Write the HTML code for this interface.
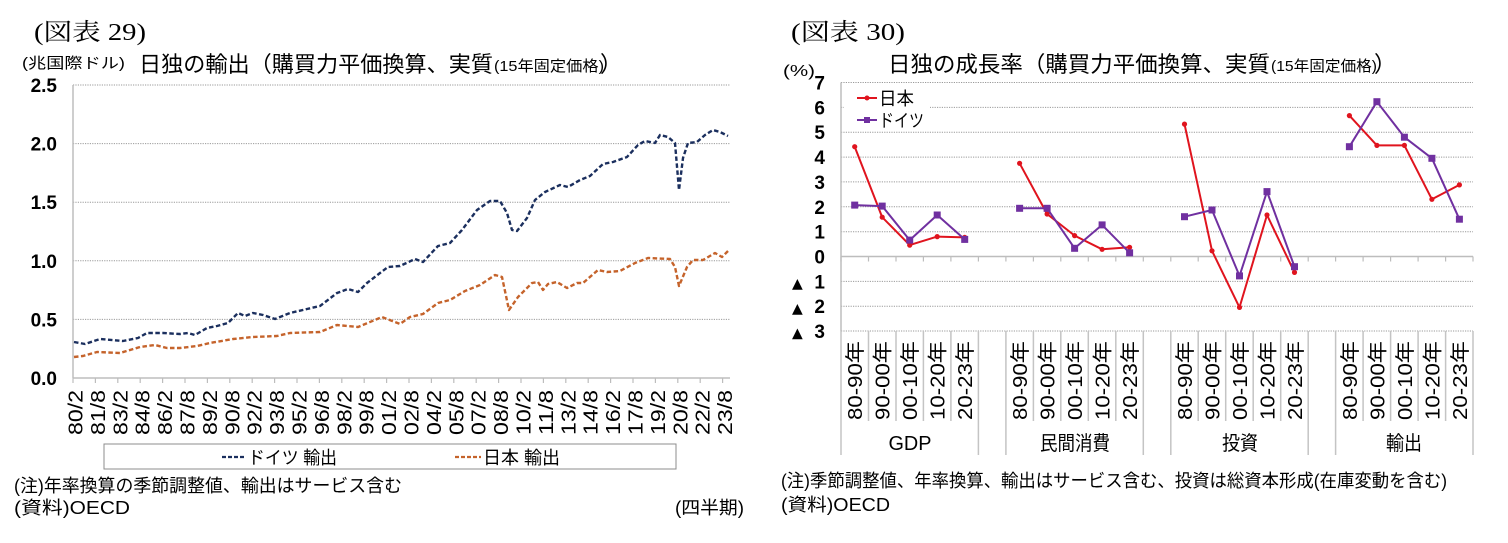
<!DOCTYPE html>
<html><head><meta charset="utf-8"><style>
html,body{margin:0;padding:0;background:#fff;}
svg{display:block;}
text{font-family:"Liberation Sans","Noto Sans CJK JP",sans-serif;fill:#000;}
.serif{font-family:"Liberation Serif","Noto Serif CJK JP",serif;}
.tri{font-family:"DejaVu Sans",sans-serif;}
.grid{stroke:#9a9a9a;stroke-width:1;stroke-dasharray:1.2 1.2;}
.ax{stroke:#bdbdbd;stroke-width:1.5;fill:none;}
</style></head><body>
<svg width="1508" height="543" viewBox="0 0 1508 543" xmlns="http://www.w3.org/2000/svg">
<rect width="1508" height="543" fill="#fff"/>

<!-- ============ LEFT CHART ============ -->
<text class="serif" x="34" y="40" font-size="24" textLength="112" lengthAdjust="spacingAndGlyphs">(図表 29)</text>
<text x="22" y="68" font-size="15" textLength="103" lengthAdjust="spacingAndGlyphs">(兆国際ドル)</text>
<text x="139" y="72" font-size="22" textLength="354" lengthAdjust="spacingAndGlyphs">日独の輸出（購買力平価換算、実質</text>
<text x="494" y="71" font-size="15" textLength="110" lengthAdjust="spacingAndGlyphs">(15年固定価格)</text>
<text x="600" y="72" font-size="22">）</text>

<!-- gridlines -->
<line class="grid" x1="73" y1="85" x2="730" y2="85"/>
<line class="grid" x1="73" y1="143.6" x2="730" y2="143.6"/>
<line class="grid" x1="73" y1="202.2" x2="730" y2="202.2"/>
<line class="grid" x1="73" y1="260.8" x2="730" y2="260.8"/>
<line class="grid" x1="73" y1="319.4" x2="730" y2="319.4"/>
<line class="ax" x1="73" y1="85" x2="73" y2="378"/>
<line class="ax" x1="73" y1="378" x2="730" y2="378"/>

<!-- y labels -->
<g font-size="19" font-weight="bold" text-anchor="end">
<text x="57" y="92">2.5</text>
<text x="57" y="150.6">2.0</text>
<text x="57" y="209.2">1.5</text>
<text x="57" y="267.8">1.0</text>
<text x="57" y="326.4">0.5</text>
<text x="57" y="385">0.0</text>
</g>

<!-- x ticks -->
<g stroke="#bdbdbd" stroke-width="1.2">
<line x1="73" y1="378" x2="73" y2="383"/><line x1="95.4" y1="378" x2="95.4" y2="383"/><line x1="117.8" y1="378" x2="117.8" y2="383"/><line x1="140.2" y1="378" x2="140.2" y2="383"/><line x1="162.6" y1="378" x2="162.6" y2="383"/><line x1="185" y1="378" x2="185" y2="383"/><line x1="207.4" y1="378" x2="207.4" y2="383"/><line x1="229.8" y1="378" x2="229.8" y2="383"/><line x1="252.2" y1="378" x2="252.2" y2="383"/><line x1="274.6" y1="378" x2="274.6" y2="383"/><line x1="297" y1="378" x2="297" y2="383"/><line x1="319.4" y1="378" x2="319.4" y2="383"/><line x1="341.8" y1="378" x2="341.8" y2="383"/><line x1="364.2" y1="378" x2="364.2" y2="383"/><line x1="386.6" y1="378" x2="386.6" y2="383"/><line x1="409" y1="378" x2="409" y2="383"/><line x1="431.4" y1="378" x2="431.4" y2="383"/><line x1="453.8" y1="378" x2="453.8" y2="383"/><line x1="476.2" y1="378" x2="476.2" y2="383"/><line x1="498.6" y1="378" x2="498.6" y2="383"/><line x1="521" y1="378" x2="521" y2="383"/><line x1="543.4" y1="378" x2="543.4" y2="383"/><line x1="565.8" y1="378" x2="565.8" y2="383"/><line x1="588.2" y1="378" x2="588.2" y2="383"/><line x1="610.6" y1="378" x2="610.6" y2="383"/><line x1="633" y1="378" x2="633" y2="383"/><line x1="655.4" y1="378" x2="655.4" y2="383"/><line x1="677.8" y1="378" x2="677.8" y2="383"/><line x1="700.2" y1="378" x2="700.2" y2="383"/><line x1="722.6" y1="378" x2="722.6" y2="383"/>
</g>

<!-- x labels (rotated) -->
<g font-size="20" text-anchor="end">
<text transform="translate(82.5,390) rotate(-90)" textLength="45" lengthAdjust="spacingAndGlyphs">80/2</text>
<text transform="translate(104.9,390) rotate(-90)" textLength="45" lengthAdjust="spacingAndGlyphs">81/8</text>
<text transform="translate(127.3,390) rotate(-90)" textLength="45" lengthAdjust="spacingAndGlyphs">83/2</text>
<text transform="translate(149.7,390) rotate(-90)" textLength="45" lengthAdjust="spacingAndGlyphs">84/8</text>
<text transform="translate(172.1,390) rotate(-90)" textLength="45" lengthAdjust="spacingAndGlyphs">86/2</text>
<text transform="translate(194.5,390) rotate(-90)" textLength="45" lengthAdjust="spacingAndGlyphs">87/8</text>
<text transform="translate(216.9,390) rotate(-90)" textLength="45" lengthAdjust="spacingAndGlyphs">89/2</text>
<text transform="translate(239.3,390) rotate(-90)" textLength="45" lengthAdjust="spacingAndGlyphs">90/8</text>
<text transform="translate(261.7,390) rotate(-90)" textLength="45" lengthAdjust="spacingAndGlyphs">92/2</text>
<text transform="translate(284.1,390) rotate(-90)" textLength="45" lengthAdjust="spacingAndGlyphs">93/8</text>
<text transform="translate(306.5,390) rotate(-90)" textLength="45" lengthAdjust="spacingAndGlyphs">95/2</text>
<text transform="translate(328.9,390) rotate(-90)" textLength="45" lengthAdjust="spacingAndGlyphs">96/8</text>
<text transform="translate(351.3,390) rotate(-90)" textLength="45" lengthAdjust="spacingAndGlyphs">98/2</text>
<text transform="translate(373.7,390) rotate(-90)" textLength="45" lengthAdjust="spacingAndGlyphs">99/8</text>
<text transform="translate(396.1,390) rotate(-90)" textLength="45" lengthAdjust="spacingAndGlyphs">01/2</text>
<text transform="translate(418.5,390) rotate(-90)" textLength="45" lengthAdjust="spacingAndGlyphs">02/8</text>
<text transform="translate(440.9,390) rotate(-90)" textLength="45" lengthAdjust="spacingAndGlyphs">04/2</text>
<text transform="translate(463.3,390) rotate(-90)" textLength="45" lengthAdjust="spacingAndGlyphs">05/8</text>
<text transform="translate(485.7,390) rotate(-90)" textLength="45" lengthAdjust="spacingAndGlyphs">07/2</text>
<text transform="translate(508.1,390) rotate(-90)" textLength="45" lengthAdjust="spacingAndGlyphs">08/8</text>
<text transform="translate(530.5,390) rotate(-90)" textLength="45" lengthAdjust="spacingAndGlyphs">10/2</text>
<text transform="translate(552.9,390) rotate(-90)" textLength="45" lengthAdjust="spacingAndGlyphs">11/8</text>
<text transform="translate(575.3,390) rotate(-90)" textLength="45" lengthAdjust="spacingAndGlyphs">13/2</text>
<text transform="translate(597.7,390) rotate(-90)" textLength="45" lengthAdjust="spacingAndGlyphs">14/8</text>
<text transform="translate(620.1,390) rotate(-90)" textLength="45" lengthAdjust="spacingAndGlyphs">16/2</text>
<text transform="translate(642.5,390) rotate(-90)" textLength="45" lengthAdjust="spacingAndGlyphs">17/8</text>
<text transform="translate(664.9,390) rotate(-90)" textLength="45" lengthAdjust="spacingAndGlyphs">19/2</text>
<text transform="translate(687.3,390) rotate(-90)" textLength="45" lengthAdjust="spacingAndGlyphs">20/8</text>
<text transform="translate(709.7,390) rotate(-90)" textLength="45" lengthAdjust="spacingAndGlyphs">22/2</text>
<text transform="translate(732.1,390) rotate(-90)" textLength="45" lengthAdjust="spacingAndGlyphs">23/8</text>
</g>

<!-- series -->
<polyline fill="none" stroke="#c5632b" stroke-width="2.4" stroke-dasharray="4.5 2.5" stroke-linejoin="round"
points="74,357 83,356 97,352 120,353 140,347 155,345 167,348 180,348 197,346 210,343 233,339 253,337 277,336 290,333 320,332 337,325 358,327 382,317 400,324 410,317 423,314 438,303 450,300 465,291 480,285 495,275 502,277 509,310 518,297 532,283 538,282 543,290 548,284 557,282 567,288 577,283 583,283 598,270 607,272 620,271 635,263 648,258 670,259 675,267 679,286 687,267 693,260 703,260 715,253 722,257 728,251"/>
<polyline fill="none" stroke="#1b2f5e" stroke-width="2.4" stroke-dasharray="4.5 2.5" stroke-linejoin="round"
points="74,342 85,344 100,339 123,341 138,338 147,333 163,333 180,334 188,333 195,335 207,328 217,326 228,323 238,313 245,316 253,313 263,315 275,319 290,313 307,309 320,306 337,293 348,289 358,292 367,283 380,273 388,267 400,266 415,259 423,262 438,246 450,243 462,230 477,210 490,201 500,201 507,213 512,230 517,231 527,218 535,200 545,192 560,185 568,187 580,180 590,176 603,164 613,162 627,157 638,145 645,141 655,143 660,135 668,137 675,143 679,190 683,158 688,143 697,142 705,135 713,130 720,132 728,136"/>

<!-- legend -->
<rect x="104" y="444" width="572" height="25" fill="#fff" stroke="#8c8c8c" stroke-width="1"/>
<line x1="222" y1="457" x2="246" y2="457" stroke="#1b2f5e" stroke-width="2.2" stroke-dasharray="4 2"/>
<text x="248" y="464" font-size="18" textLength="89" lengthAdjust="spacingAndGlyphs">ドイツ 輸出</text>
<line x1="455" y1="457" x2="481" y2="457" stroke="#c5632b" stroke-width="2.2" stroke-dasharray="4 2"/>
<text x="483" y="464" font-size="18" textLength="77" lengthAdjust="spacingAndGlyphs">日本 輸出</text>

<!-- footers -->
<text x="14" y="492" font-size="18" textLength="388" lengthAdjust="spacingAndGlyphs">(注)年率換算の季節調整値、輸出はサービス含む</text>
<text x="14" y="514" font-size="18" textLength="116" lengthAdjust="spacingAndGlyphs">(資料)OECD</text>
<text x="675" y="514" font-size="18" textLength="69" lengthAdjust="spacingAndGlyphs">(四半期)</text>

<!-- ============ RIGHT CHART ============ -->
<text class="serif" x="791" y="40" font-size="24" textLength="114" lengthAdjust="spacingAndGlyphs">(図表 30)</text>
<text x="783" y="76" font-size="16" textLength="32" lengthAdjust="spacingAndGlyphs">(%)</text>
<text x="888" y="72" font-size="22" textLength="382" lengthAdjust="spacingAndGlyphs">日独の成長率（購買力平価換算、実質</text>
<text x="1271" y="71" font-size="15" textLength="106" lengthAdjust="spacingAndGlyphs">(15年固定価格)</text>
<text x="1374" y="72" font-size="22">）</text>

<!-- gridlines -->
<g class="grid">
<line x1="841" y1="82.5" x2="1473" y2="82.5"/>
<line x1="841" y1="107.4" x2="1473" y2="107.4"/>
<line x1="841" y1="132.2" x2="1473" y2="132.2"/>
<line x1="841" y1="157.1" x2="1473" y2="157.1"/>
<line x1="841" y1="181.9" x2="1473" y2="181.9"/>
<line x1="841" y1="206.8" x2="1473" y2="206.8"/>
<line x1="841" y1="231.7" x2="1473" y2="231.7"/>
<line x1="841" y1="281.4" x2="1473" y2="281.4"/>
<line x1="841" y1="306.2" x2="1473" y2="306.2"/>
<line x1="841" y1="331" x2="1473" y2="331"/>
</g>
<line class="ax" x1="841" y1="82.5" x2="841" y2="331"/>
<line class="ax" x1="841" y1="256.5" x2="1473" y2="256.5"/>

<!-- zero-line ticks -->
<g stroke="#bdbdbd" stroke-width="1.2">
<line x1="841" y1="256.5" x2="841" y2="261.5"/><line x1="868.5" y1="256.5" x2="868.5" y2="261.5"/><line x1="896" y1="256.5" x2="896" y2="261.5"/><line x1="923.4" y1="256.5" x2="923.4" y2="261.5"/><line x1="950.9" y1="256.5" x2="950.9" y2="261.5"/><line x1="978.4" y1="256.5" x2="978.4" y2="261.5"/><line x1="1005.9" y1="256.5" x2="1005.9" y2="261.5"/><line x1="1033.4" y1="256.5" x2="1033.4" y2="261.5"/><line x1="1060.8" y1="256.5" x2="1060.8" y2="261.5"/><line x1="1088.3" y1="256.5" x2="1088.3" y2="261.5"/><line x1="1115.8" y1="256.5" x2="1115.8" y2="261.5"/><line x1="1143.3" y1="256.5" x2="1143.3" y2="261.5"/><line x1="1170.8" y1="256.5" x2="1170.8" y2="261.5"/><line x1="1198.2" y1="256.5" x2="1198.2" y2="261.5"/><line x1="1225.7" y1="256.5" x2="1225.7" y2="261.5"/><line x1="1253.2" y1="256.5" x2="1253.2" y2="261.5"/><line x1="1280.7" y1="256.5" x2="1280.7" y2="261.5"/><line x1="1308.2" y1="256.5" x2="1308.2" y2="261.5"/><line x1="1335.6" y1="256.5" x2="1335.6" y2="261.5"/><line x1="1363.1" y1="256.5" x2="1363.1" y2="261.5"/><line x1="1390.6" y1="256.5" x2="1390.6" y2="261.5"/><line x1="1418.1" y1="256.5" x2="1418.1" y2="261.5"/><line x1="1445.6" y1="256.5" x2="1445.6" y2="261.5"/><line x1="1473" y1="256.5" x2="1473" y2="261.5"/>
</g>

<!-- category table lines -->
<g stroke="#c4c4c4" stroke-width="1.5">
<line x1="841" y1="331" x2="841" y2="455"/><line x1="868.5" y1="331" x2="868.5" y2="421"/><line x1="896" y1="331" x2="896" y2="421"/><line x1="923.4" y1="331" x2="923.4" y2="421"/><line x1="950.9" y1="331" x2="950.9" y2="421"/><line x1="978.4" y1="331" x2="978.4" y2="455"/>
<line x1="1005.9" y1="331" x2="1005.9" y2="455"/><line x1="1033.4" y1="331" x2="1033.4" y2="421"/><line x1="1060.8" y1="331" x2="1060.8" y2="421"/><line x1="1088.3" y1="331" x2="1088.3" y2="421"/><line x1="1115.8" y1="331" x2="1115.8" y2="421"/><line x1="1143.3" y1="331" x2="1143.3" y2="455"/>
<line x1="1170.8" y1="331" x2="1170.8" y2="455"/><line x1="1198.2" y1="331" x2="1198.2" y2="421"/><line x1="1225.7" y1="331" x2="1225.7" y2="421"/><line x1="1253.2" y1="331" x2="1253.2" y2="421"/><line x1="1280.7" y1="331" x2="1280.7" y2="421"/><line x1="1308.2" y1="331" x2="1308.2" y2="455"/>
<line x1="1335.6" y1="331" x2="1335.6" y2="455"/><line x1="1363.1" y1="331" x2="1363.1" y2="421"/><line x1="1390.6" y1="331" x2="1390.6" y2="421"/><line x1="1418.1" y1="331" x2="1418.1" y2="421"/><line x1="1445.6" y1="331" x2="1445.6" y2="421"/><line x1="1473" y1="331" x2="1473" y2="455"/>
</g>

<!-- y labels -->
<g font-size="19" font-weight="bold" text-anchor="end">
<text x="825" y="89.5">7</text>
<text x="825" y="114.4">6</text>
<text x="825" y="139.2">5</text>
<text x="825" y="164.1">4</text>
<text x="825" y="188.9">3</text>
<text x="825" y="213.8">2</text>
<text x="825" y="238.7">1</text>
<text x="825" y="263.5">0</text>
<text x="825" y="288.4">1</text>
<text x="825" y="313.2">2</text>
<text x="825" y="338">3</text>
</g>
<g class="tri" font-size="14">
<text class="tri" x="792" y="288">▲</text>
<text class="tri" x="792" y="312.8">▲</text>
<text class="tri" x="792" y="337.6">▲</text>
</g>

<!-- year labels -->
<g font-size="20" text-anchor="end">
<text transform="translate(862.2,341) rotate(-90)" textLength="79" lengthAdjust="spacingAndGlyphs">80-90年</text>
<text transform="translate(889.7,341) rotate(-90)" textLength="79" lengthAdjust="spacingAndGlyphs">90-00年</text>
<text transform="translate(917.2,341) rotate(-90)" textLength="79" lengthAdjust="spacingAndGlyphs">00-10年</text>
<text transform="translate(944.7,341) rotate(-90)" textLength="79" lengthAdjust="spacingAndGlyphs">10-20年</text>
<text transform="translate(972.2,341) rotate(-90)" textLength="79" lengthAdjust="spacingAndGlyphs">20-23年</text>
<text transform="translate(1027.1,341) rotate(-90)" textLength="79" lengthAdjust="spacingAndGlyphs">80-90年</text>
<text transform="translate(1054.6,341) rotate(-90)" textLength="79" lengthAdjust="spacingAndGlyphs">90-00年</text>
<text transform="translate(1082.1,341) rotate(-90)" textLength="79" lengthAdjust="spacingAndGlyphs">00-10年</text>
<text transform="translate(1109.6,341) rotate(-90)" textLength="79" lengthAdjust="spacingAndGlyphs">10-20年</text>
<text transform="translate(1137.1,341) rotate(-90)" textLength="79" lengthAdjust="spacingAndGlyphs">20-23年</text>
<text transform="translate(1192,341) rotate(-90)" textLength="79" lengthAdjust="spacingAndGlyphs">80-90年</text>
<text transform="translate(1219.5,341) rotate(-90)" textLength="79" lengthAdjust="spacingAndGlyphs">90-00年</text>
<text transform="translate(1247,341) rotate(-90)" textLength="79" lengthAdjust="spacingAndGlyphs">00-10年</text>
<text transform="translate(1274.5,341) rotate(-90)" textLength="79" lengthAdjust="spacingAndGlyphs">10-20年</text>
<text transform="translate(1302,341) rotate(-90)" textLength="79" lengthAdjust="spacingAndGlyphs">20-23年</text>
<text transform="translate(1356.9,341) rotate(-90)" textLength="79" lengthAdjust="spacingAndGlyphs">80-90年</text>
<text transform="translate(1384.4,341) rotate(-90)" textLength="79" lengthAdjust="spacingAndGlyphs">90-00年</text>
<text transform="translate(1411.9,341) rotate(-90)" textLength="79" lengthAdjust="spacingAndGlyphs">00-10年</text>
<text transform="translate(1439.4,341) rotate(-90)" textLength="79" lengthAdjust="spacingAndGlyphs">10-20年</text>
<text transform="translate(1466.9,341) rotate(-90)" textLength="79" lengthAdjust="spacingAndGlyphs">20-23年</text>
</g>

<!-- group labels -->
<g font-size="20" text-anchor="middle">
<text x="910" y="450" textLength="43" lengthAdjust="spacingAndGlyphs">GDP</text>
<text x="1075" y="450" textLength="70" lengthAdjust="spacingAndGlyphs">民間消費</text>
<text x="1240" y="450" textLength="36" lengthAdjust="spacingAndGlyphs">投資</text>
<text x="1404" y="450" textLength="36" lengthAdjust="spacingAndGlyphs">輸出</text>
</g>

<!-- legend -->
<rect x="844" y="86" width="86" height="42" fill="#fff"/>
<line x1="857" y1="98" x2="877" y2="98" stroke="#e0141e" stroke-width="2"/>
<circle cx="867" cy="98" r="2.5" fill="#e0141e"/>
<text x="879" y="105" font-size="18" textLength="35" lengthAdjust="spacingAndGlyphs">日本</text>
<line x1="857" y1="120" x2="877" y2="120" stroke="#7030a0" stroke-width="2"/>
<rect x="864" y="117" width="6" height="6" fill="#7030a0"/>
<text x="879" y="127" font-size="18" textLength="45" lengthAdjust="spacingAndGlyphs">ドイツ</text>

<!-- Japan series -->
<g stroke="#e0141e" stroke-width="2" fill="none" stroke-linejoin="round">
<polyline points="854.7,146.7 882.2,217.2 909.7,245.1 937.2,236.6 964.7,237.4"/>
<polyline points="1019.6,163.3 1047.1,214 1074.6,235.6 1102.1,249.3 1129.6,247.3"/>
<polyline points="1184.5,124.1 1212,250.8 1239.5,307.4 1267,215 1294.5,272.4"/>
<polyline points="1349.4,115.6 1376.9,145.4 1404.4,145.4 1431.9,199.3 1459.4,184.9"/>
</g>
<g fill="#e0141e">
<circle cx="854.7" cy="146.7" r="2.6"/><circle cx="882.2" cy="217.2" r="2.6"/><circle cx="909.7" cy="245.1" r="2.6"/><circle cx="937.2" cy="236.6" r="2.6"/><circle cx="964.7" cy="237.4" r="2.6"/>
<circle cx="1019.6" cy="163.3" r="2.6"/><circle cx="1047.1" cy="214" r="2.6"/><circle cx="1074.6" cy="235.6" r="2.6"/><circle cx="1102.1" cy="249.3" r="2.6"/><circle cx="1129.6" cy="247.3" r="2.6"/>
<circle cx="1184.5" cy="124.1" r="2.6"/><circle cx="1212" cy="250.8" r="2.6"/><circle cx="1239.5" cy="307.4" r="2.6"/><circle cx="1267" cy="215" r="2.6"/><circle cx="1294.5" cy="272.4" r="2.6"/>
<circle cx="1349.4" cy="115.6" r="2.6"/><circle cx="1376.9" cy="145.4" r="2.6"/><circle cx="1404.4" cy="145.4" r="2.6"/><circle cx="1431.9" cy="199.3" r="2.6"/><circle cx="1459.4" cy="184.9" r="2.6"/>
</g>

<!-- Germany series -->
<g stroke="#7030a0" stroke-width="2" fill="none" stroke-linejoin="round">
<polyline points="854.7,205.1 882.2,206.1 909.7,240.1 937.2,215 964.7,239.4"/>
<polyline points="1019.6,208.3 1047.1,208.3 1074.6,248.3 1102.1,224.9 1129.6,252.8"/>
<polyline points="1184.5,216.7 1212,210 1239.5,275.9 1267,191.6 1294.5,266.7"/>
<polyline points="1349.4,146.7 1376.9,101.7 1404.4,137.2 1431.9,158.3 1459.4,219.2"/>
</g>
<g fill="#7030a0">
<rect x="851.2" y="201.6" width="7" height="7"/><rect x="878.7" y="202.6" width="7" height="7"/><rect x="906.2" y="236.6" width="7" height="7"/><rect x="933.7" y="211.5" width="7" height="7"/><rect x="961.2" y="235.9" width="7" height="7"/>
<rect x="1016.1" y="204.8" width="7" height="7"/><rect x="1043.6" y="204.8" width="7" height="7"/><rect x="1071.1" y="244.8" width="7" height="7"/><rect x="1098.6" y="221.4" width="7" height="7"/><rect x="1126.1" y="249.3" width="7" height="7"/>
<rect x="1181" y="213.2" width="7" height="7"/><rect x="1208.5" y="206.5" width="7" height="7"/><rect x="1236" y="272.4" width="7" height="7"/><rect x="1263.5" y="188.1" width="7" height="7"/><rect x="1291" y="263.2" width="7" height="7"/>
<rect x="1345.9" y="143.2" width="7" height="7"/><rect x="1373.4" y="98.2" width="7" height="7"/><rect x="1400.9" y="133.7" width="7" height="7"/><rect x="1428.4" y="154.8" width="7" height="7"/><rect x="1455.9" y="215.7" width="7" height="7"/>
</g>

<!-- footers -->
<text x="781" y="487" font-size="18" textLength="666" lengthAdjust="spacingAndGlyphs">(注)季節調整値、年率換算、輸出はサービス含む、投資は総資本形成(在庫変動を含む)</text>
<text x="781" y="511" font-size="18" textLength="109" lengthAdjust="spacingAndGlyphs">(資料)OECD</text>
</svg>
</body></html>
